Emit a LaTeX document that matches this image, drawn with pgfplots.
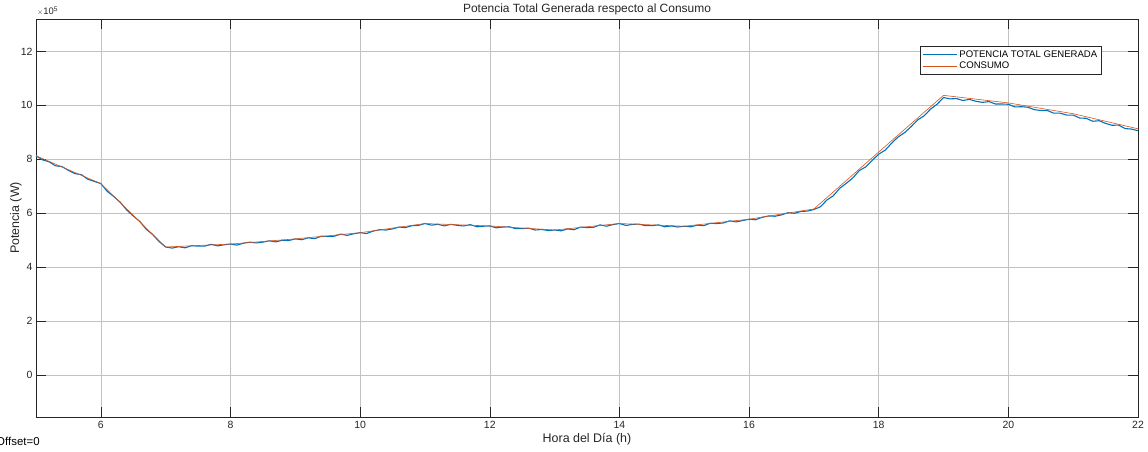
\documentclass[border=0pt]{standalone}
\usepackage{fontspec}
\setmainfont{Liberation Sans}
\usepackage{pgfplots}
\pgfplotsset{compat=1.18}

\definecolor{mblue}{rgb}{0,0.447,0.741}
\definecolor{morange}{rgb}{0.85,0.325,0.098}
\definecolor{axgray}{gray}{0.15}
\definecolor{gridgray}{gray}{0.76}

\begin{document}
\begin{tikzpicture}
\useasboundingbox (0,0) rectangle (1148bp,452bp);
\begin{axis}[
  name=main,
  at={(36bp,35bp)}, anchor=south west,
  scale only axis, width=1102bp, height=398bp,
  xmin=5, xmax=22, ymin=-1.55, ymax=13.2,
  xtick={6,8,...,22}, ytick={0,2,...,12},
  tick align=inside, major tick length=10bp,
  tick style={axgray, line width=0.5pt},
  axis line style={axgray, line width=0.8pt},
  grid=major, major grid style={gridgray, line width=0.5pt},
  ticklabel style={font=\fontsize{10.5}{12}\selectfont, text=axgray},
  /pgf/number format/assume math mode=true,
  xticklabel style={yshift=-0.5bp},
  every axis title shift=0pt,
  title={Potencia Total Generada respecto al Consumo},
  title style={font=\fontsize{12}{14}\selectfont, text=axgray, at={(rel axis cs:0.5,1)}, anchor=base, inner sep=0pt, yshift=6bp},
  xlabel={Hora del Día (h)},
  ylabel={Potencia (W)},
  label style={font=\fontsize{12.5}{14}\selectfont, text=axgray},
  xlabel style={at={(rel axis cs:0.5,0)}, anchor=base, inner sep=0pt, yshift=-25bp},
  ylabel style={at={(rel axis cs:0,0.5)}, anchor=center, inner sep=0pt, yshift=20bp},
  legend style={at={(rel axis cs:0.967,0.932)}, anchor=north east,
    draw=axgray, line width=0.8pt, fill=white,
    font=\fontsize{9.6}{11}\selectfont, text=black,
    inner xsep=2bp, inner ysep=2.5bp, row sep=0.5bp,
    nodes={inner xsep=2bp, inner ysep=1.5bp}},
  legend cell align=left,
  legend image code/.code={\draw[#1, line width=1pt] (0bp,0bp) -- (34bp,0bp);},
]

% Generated power (measured, noisy), in 1e5 W
\addplot[mblue, line width=1.1pt, line join=round] coordinates {
(5.0,8.13)(5.1,7.98)(5.2,7.91)(5.3,7.76)(5.4,7.73)(5.5,7.59)(5.6,7.47)(5.7,7.43)(5.8,7.26)(5.9,7.18)
(6.0,7.10)(6.1,6.81)(6.2,6.62)(6.3,6.41)(6.4,6.12)(6.5,5.90)(6.6,5.70)(6.7,5.41)(6.8,5.21)(6.9,4.95)
(7.0,4.75)(7.1,4.71)(7.2,4.76)(7.3,4.72)(7.4,4.80)(7.5,4.78)(7.6,4.78)(7.7,4.85)(7.8,4.79)(7.9,4.83)
(8.0,4.86)(8.1,4.82)(8.2,4.89)(8.3,4.93)(8.4,4.90)(8.5,4.93)(8.6,4.98)(8.7,4.94)(8.8,5.00)(8.9,4.99)
(9.0,5.05)(9.1,5.02)(9.2,5.09)(9.3,5.06)(9.4,5.15)(9.5,5.14)(9.6,5.15)(9.7,5.23)(9.8,5.18)(9.9,5.24)
(10.0,5.28)(10.1,5.25)(10.2,5.34)(10.3,5.39)(10.4,5.38)(10.5,5.42)(10.6,5.49)(10.7,5.47)(10.8,5.54)(10.9,5.55)
(11.0,5.62)(11.1,5.56)(11.2,5.59)(11.3,5.53)(11.4,5.59)(11.5,5.55)(11.6,5.53)(11.7,5.58)(11.8,5.50)(11.9,5.52)
(12.0,5.53)(12.1,5.46)(12.2,5.49)(12.3,5.50)(12.4,5.43)(12.5,5.43)(12.6,5.45)(12.7,5.38)(12.8,5.40)(12.9,5.36)
(13.0,5.38)(13.1,5.35)(13.2,5.42)(13.3,5.39)(13.4,5.49)(13.5,5.47)(13.6,5.48)(13.7,5.57)(13.8,5.52)(13.9,5.58)
(14.0,5.62)(14.1,5.55)(14.2,5.59)(14.3,5.60)(14.4,5.54)(14.5,5.54)(14.6,5.57)(14.7,5.50)(14.8,5.53)(14.9,5.49)
(15.0,5.52)(15.1,5.50)(15.2,5.56)(15.3,5.54)(15.4,5.63)(15.5,5.62)(15.6,5.64)(15.7,5.72)(15.8,5.68)(15.9,5.73)
(16.0,5.78)(16.1,5.76)(16.2,5.85)(16.3,5.90)(16.4,5.89)(16.5,5.94)(16.6,6.02)(16.7,6.00)(16.8,6.07)(16.9,6.08)
(17.0,6.14)(17.1,6.24)(17.2,6.49)(17.3,6.65)(17.4,6.93)(17.5,7.11)(17.6,7.31)(17.7,7.58)(17.8,7.72)(17.9,7.96)
(18.0,8.19)(18.1,8.34)(18.2,8.60)(18.3,8.83)(18.4,8.99)(18.5,9.21)(18.6,9.46)(18.7,9.61)(18.8,9.86)(18.9,10.04)
(19.0,10.29)(19.1,10.24)(19.2,10.25)(19.3,10.18)(19.4,10.22)(19.5,10.15)(19.6,10.11)(19.7,10.14)(19.8,10.05)(19.9,10.05)
(20.0,10.04)(20.1,9.94)(20.2,9.95)(20.3,9.93)(20.4,9.84)(20.5,9.81)(20.6,9.81)(20.7,9.71)(20.8,9.71)(20.9,9.64)
(21.0,9.64)(21.1,9.53)(21.2,9.52)(21.3,9.41)(21.4,9.43)(21.5,9.33)(21.6,9.26)(21.7,9.27)(21.8,9.14)(21.9,9.12)
(22.0,9.06)
};
\addlegendentry{POTENCIA TOTAL GENERADA}

% Hourly demand profile, in 1e5 W
\addplot[morange, line width=0.6pt, line join=round] coordinates {
(5,8.13)(6,7.10)(7,4.75)(8,4.86)(9,5.05)(10,5.28)(11,5.62)(12,5.53)(13,5.38)
(14,5.62)(15,5.52)(16,5.78)(17,6.16)(18,8.27)(19,10.37)(20,10.09)(21,9.69)(22,9.13)
};
\addlegendentry{CONSUMO}
\end{axis}
% common scale factor of the y axis
\node[anchor=base west, inner sep=0pt, text=axgray, font=\fontsize{9.5}{10}\selectfont]
  at ([xshift=1bp,yshift=4bp]main.north west) {{\fontsize{7.5}{8}\selectfont$\times$}10\textsuperscript{5}};
\node[anchor=west, inner sep=0pt, text=black, font=\fontsize{11.5}{12}\selectfont] at (-4bp,10.5bp) {Offset=0};
\end{tikzpicture}
\end{document}
